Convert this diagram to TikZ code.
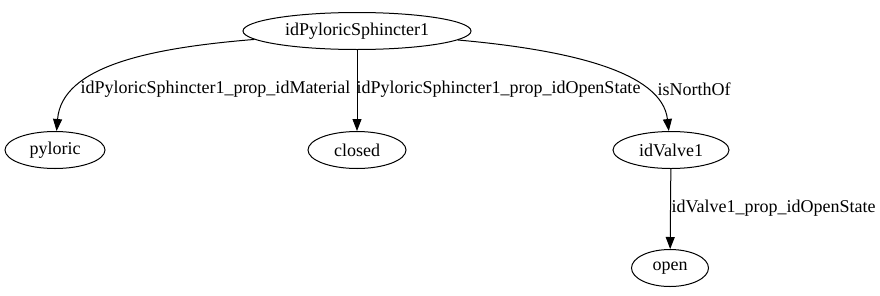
\documentclass[tikz,border=0pt]{standalone}
\usepackage{fontspec}
\setmainfont{Liberation Serif}
\usetikzlibrary{arrows.meta,positioning,shapes}

\begin{document}
\begin{tikzpicture}[x=1pt, y=-1pt, line width=1pt, >={Triangle[length=12pt,width=9pt]},
  main node/.style={ellipse,draw,minimum height=37pt,inner sep=0pt,font=\fontsize{18}{20}\selectfont},
  edge label/.style={anchor=west,inner sep=0pt,font=\fontsize{18}{20}\selectfont}]
\useasboundingbox (0,0) rectangle (880,295);
% entities
\node[main node, minimum width=228pt] (vSph) at (357,31) {idPyloricSphincter1};
\node[main node, minimum width=100pt] (vPyl) at (55,150) {pyloric};
\node[main node, minimum width=98pt] (vClo) at (357,150) {closed};
\node[main node, minimum width=116pt] (vVal) at (671,150) {idValve1};
\node[main node, minimum width=77pt] (vOpe) at (670,268) {open};
% properties
\draw[->] (vSph) .. controls (150,48) and (62,66) .. (vPyl);
\draw[->] (vSph) -- (vClo);
\draw[->] (vSph) .. controls (570,50) and (662,72) .. (vVal);
\draw[->] (vVal) -- (vOpe);
\node[edge label] (lMat) at (80,89) {idPyloricSphincter1\_prop\_idMaterial};
\node[edge label] (lOst) at (356,89) {idPyloricSphincter1\_prop\_idOpenState};
\node[edge label] (lNor) at (657,89) {isNorthOf};
\node[edge label] (lVal) at (671,208) {idValve1\_prop\_idOpenState};
\end{tikzpicture}
\end{document}
